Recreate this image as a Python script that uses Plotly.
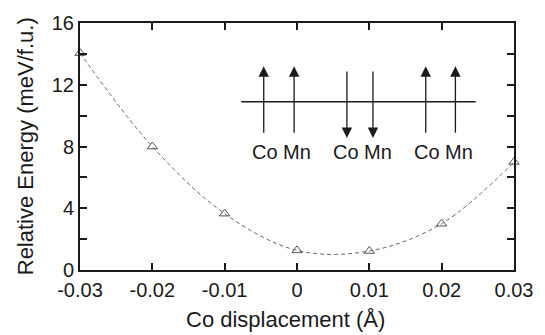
import plotly.graph_objects as go

# Data
displacement = [-0.03, -0.02, -0.01, 0.0, 0.01, 0.02, 0.03]
energy = [14.05, 8.0, 3.65, 1.27, 1.23, 3.0, 7.0]

x_tickvals = [-0.03, -0.02, -0.01, 0.0, 0.01, 0.02, 0.03]
x_ticktext = ["-0.03", "-0.02", "-0.01", "0", "0.01", "0.02", "0.03"]
y_tickvals = [0, 2, 4, 6, 8, 10, 12, 14, 16]
y_ticktext = ["0", "", "4", "", "8", "", "12", "", "16"]

# Inset spin diagram (data coordinates)
spin_x = [-0.0046, -0.0004, 0.0069, 0.0105, 0.0178, 0.0219]
spin_dir = ["up", "up", "down", "down", "up", "up"]
label_x = [-0.0021, 0.0091, 0.0203]
label_text = ["Co Mn", "Co Mn", "Co Mn"]

x_title = "Co displacement (Å)"
y_title = "Relative Energy (meV/f.u.)"

FONT = "Liberation Sans, Arial, sans-serif"
INK = "#1a1a1a"

fig = go.Figure()
fig.add_trace(go.Scatter(
    x=displacement, y=energy,
    mode="lines+markers",
    line=dict(color="#666666", width=1, dash="4px,3px", shape="spline", smoothing=1.0),
    marker=dict(symbol="triangle-up-open", size=9, color="#555555", line=dict(width=1)),
    cliponaxis=False,
    showlegend=False,
))

# horizontal line of inset
fig.add_shape(type="line", x0=-0.0077, x1=0.0247, y0=10.9, y1=10.9,
              line=dict(color=INK, width=1.5), xref="x", yref="y")

for sx, d in zip(spin_x, spin_dir):
    if d == "up":
        tip, tail = 13.2, 8.8
    else:
        tip, tail = 8.55, 12.95
    fig.add_annotation(x=sx, y=tip, ax=sx, ay=tail, xref="x", yref="y",
                       axref="x", ayref="y", text="", showarrow=True,
                       arrowhead=2, arrowsize=1.6, arrowwidth=1.3, arrowcolor=INK)

for lx, t in zip(label_x, label_text):
    fig.add_annotation(x=lx, y=7.65, xref="x", yref="y", text=t, showarrow=False,
                       font=dict(family=FONT, size=20, color=INK))

# axis titles as annotations for exact placement
fig.add_annotation(x=0.474, y=-0.2, xref="paper", yref="paper", text=x_title,
                   showarrow=False, xanchor="center", yanchor="middle",
                   font=dict(family=FONT, size=22, color=INK))
fig.add_annotation(x=-0.125, y=0.5, xref="paper", yref="paper", text=y_title,
                   showarrow=False, xanchor="center", yanchor="middle", textangle=-90,
                   font=dict(family=FONT, size=22, color=INK))

fig.update_xaxes(
    range=[-0.03, 0.03], tickvals=x_tickvals, ticktext=x_ticktext,
    ticks="inside", ticklen=7, tickwidth=1.5, tickcolor=INK,
    showline=True, linecolor=INK, linewidth=2, mirror="ticks",
    showgrid=False, zeroline=False, ticklabelstandoff=1,
    tickfont=dict(family=FONT, size=20, color=INK),
)
fig.update_yaxes(
    range=[0, 16], tickvals=y_tickvals, ticktext=y_ticktext,
    ticks="inside", ticklen=7, tickwidth=1.5, tickcolor=INK,
    showline=True, linecolor=INK, linewidth=2, mirror="ticks",
    showgrid=False, zeroline=False,
    tickfont=dict(family=FONT, size=20, color=INK),
)
fig.update_layout(
    width=545, height=335,
    margin=dict(l=80, r=26, t=19, b=65),
    plot_bgcolor="white", paper_bgcolor="white",
)
fig.write_html("out.html", config={"displayModeBar": False},
               post_script="document.body.style.margin='0';")
